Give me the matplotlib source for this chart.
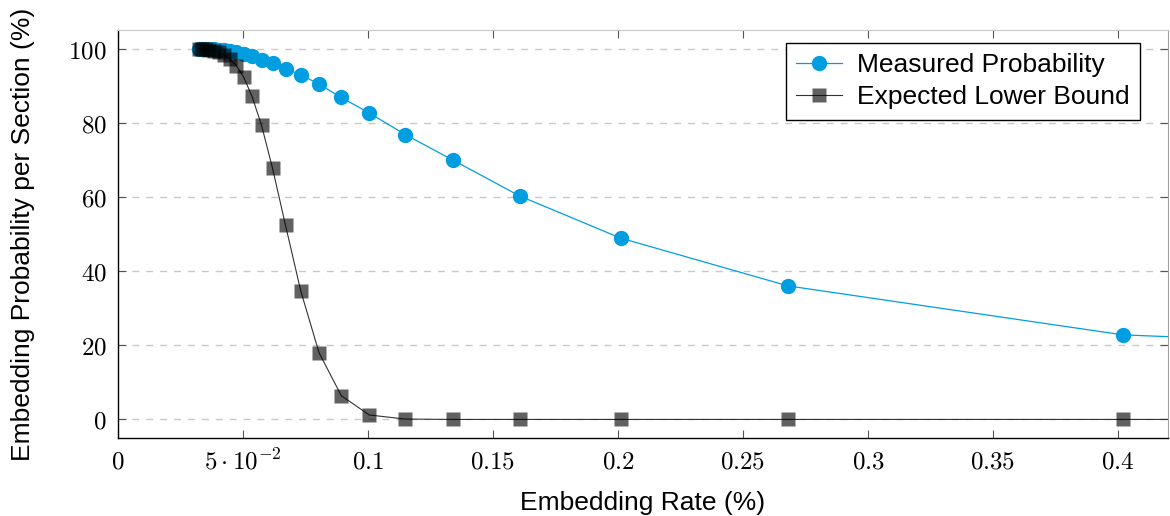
import matplotlib
matplotlib.use("Agg")
from matplotlib import pyplot as plt
import numpy as np

# embedding rate (%) -- one point per section count n, x = 0.804 / n
rate = [0.804, 0.402, 0.268, 0.201, 0.1608, 0.134, 0.1149, 0.1005, 0.0893,
        0.0804, 0.0731, 0.067, 0.0618, 0.0574, 0.0536, 0.05025, 0.0473,
        0.0447, 0.0423, 0.0402, 0.0383, 0.0365, 0.0350, 0.0335, 0.0322]

measured = [12.0, 22.8, 36.0, 48.9, 60.2, 69.9, 76.8, 82.6, 86.8,
            90.4, 92.9, 94.6, 96.0, 97.0, 97.9, 98.6, 99.0,
            99.3, 99.5, 99.7, 99.8, 99.9, 99.95, 100.0, 100.0]

lower_bound = [0.0, 0.0, 0.0, 0.0, 0.0, 0.0, 0.1, 1.2, 6.4,
               18.0, 34.6, 52.3, 67.7, 79.3, 87.1, 92.3, 95.4,
               97.2, 98.3, 99.0, 99.4, 99.7, 99.85, 99.95, 100.0]

xticks = [0, 0.05, 0.1, 0.15, 0.2, 0.25, 0.3, 0.35, 0.4]
xticklabels = ["$0$", r"$5\cdot10^{-2}$", "$0.1$", "$0.15$", "$0.2$", "$0.25$",
               "$0.3$", "$0.35$", "$0.4$"]
yticks = [0, 20, 40, 60, 80, 100]

plt.rcParams["mathtext.fontset"] = "cm"
plt.rcParams["font.family"] = ["Liberation Sans", "DejaVu Sans"]

fig = plt.figure(figsize=(11.7, 5.16), dpi=100)
ax = fig.add_axes([0.1009, 0.1512, 0.8974, 0.7907])

blue = "#009ee0"
ax.plot(rate, measured, color=blue, lw=0.9, marker="o", ms=10,
        mec=blue, mfc=blue, label="Measured Probability", zorder=3)
ax.plot(rate, lower_bound, color="#333333", lw=0.8, marker="s", ms=9.5,
        mfc=(0, 0, 0, 0.62), mec=(0, 0, 0, 0.0), label="Expected Lower Bound",
        zorder=3)

ax.set_xlim(0, 0.42)
ax.set_ylim(-5, 105)
ax.set_xticks(xticks)
ax.set_xticklabels(xticklabels)
ax.set_yticks(yticks)
ax.set_yticklabels([f"${v}$" for v in yticks])
ax.tick_params(axis="both", direction="in", length=6, width=0.8,
               labelsize=18, colors="#555555", labelcolor="black",
               top=True, right=True)
ax.tick_params(axis="x", pad=8)
ax.tick_params(axis="y", pad=8)

for s in ["left", "bottom"]:
    ax.spines[s].set_color("black")
    ax.spines[s].set_linewidth(1.0)
ax.spines["top"].set_color("#c8c8c8")
ax.spines["right"].set_color("#a0a0a0")

ax.yaxis.grid(True, ls=(0, (5, 5)), color="#c8c8c8", lw=1.0)
ax.set_axisbelow(True)

ax.set_xlabel("Embedding Rate (%)", fontsize=19, labelpad=12)
ax.set_ylabel("Embedding Probability per Section (%)", fontsize=19, labelpad=24)

leg = ax.legend(loc="upper right", bbox_to_anchor=(0.9733, 0.969), fontsize=19,
                fancybox=False, framealpha=1, edgecolor="black",
                handlelength=1.75, borderpad=0.4, labelspacing=0.3,
                handletextpad=0.55, borderaxespad=0)
leg.get_frame().set_linewidth(1.0)

fig.savefig("out.png", dpi=100)
